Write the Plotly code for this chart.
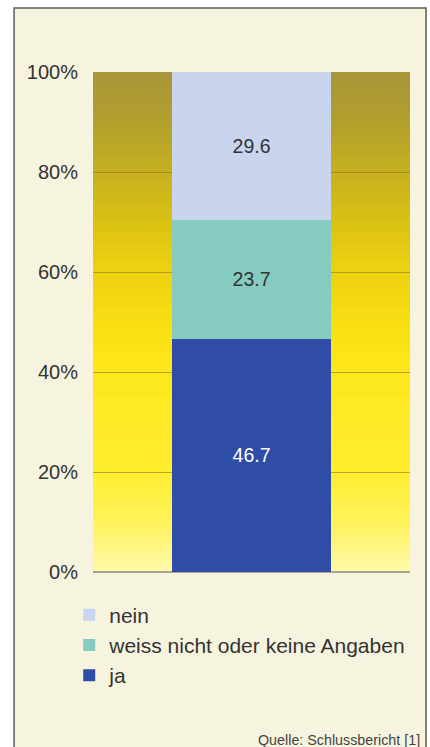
import plotly.graph_objects as go

# ---- data ----
categories = ["Umfrage"]
series_names = ["ja", "weiss nicht oder keine Angaben", "nein"]
ja_values = [46.7]
weiss_values = [23.7]
nein_values = [29.6]
tick_values = [0, 20, 40, 60, 80, 100]
tick_labels = ["0%", "20%", "40%", "60%", "80%", "100%"]
source_text = "Quelle: Schlussbericht [1]"

FONT = "Liberation Sans, Arial, sans-serif"
colors = {"ja": "#2f4ca6", "weiss nicht oder keine Angaben": "#86cbbf", "nein": "#c9d5ee"}
text_colors = {"ja": "#ffffff", "weiss nicht oder keine Angaben": "#333333", "nein": "#333333"}

fig = go.Figure()
for name, vals in zip(series_names, [ja_values, weiss_values, nein_values]):
    fig.add_trace(go.Bar(
        x=categories, y=vals, name=name,
        marker=dict(color=colors[name], line=dict(width=0)),
        text=[f"{v:.1f}" for v in vals],
        textposition="inside", insidetextanchor="middle",
        textfont=dict(family=FONT, size=19.5, color=text_colors[name]),
        hoverinfo="skip",
    ))

# ---- background gradient (styling) ----
stops = [(0, (255, 249, 170)), (10, (255, 243, 92)), (20, (255, 237, 48)),
         (40, (253, 231, 28)), (50, (248, 222, 18)), (60, (238, 209, 16)),
         (70, (218, 194, 20)), (80, (198, 176, 30)), (90, (178, 159, 44)),
         (100, (168, 149, 58))]

def col_at(v):
    for (a, ca), (b, cb) in zip(stops[:-1], stops[1:]):
        if a <= v <= b:
            t = (v - a) / (b - a)
            c = [round(ca[i] + (cb[i] - ca[i]) * t) for i in range(3)]
            return f"rgb({c[0]},{c[1]},{c[2]})"
    return "rgb(168,149,58)"

shapes = []
# outer frame
shapes.append(dict(type="rect", xref="paper", yref="paper",
                   x0=-0.249, x1=1.0505, y0=-0.36, y1=1.128,
                   fillcolor="#f6f4de", line=dict(color="#5a5a55", width=1.5),
                   layer="below"))
N = 100
for i in range(N):
    y0 = i * 100 / N
    y1 = (i + 1) * 100 / N
    shapes.append(dict(type="rect", xref="x domain", yref="y",
                       x0=0, x1=1, y0=y0, y1=y1 + 0.05,
                       fillcolor=col_at((y0 + y1) / 2), line=dict(width=0),
                       layer="below"))
fig.update_layout(shapes=shapes)

fig.add_annotation(text=source_text, xref="paper", yref="paper",
                   x=1.037, y=-0.336, xanchor="right", yanchor="middle",
                   showarrow=False, font=dict(family=FONT, size=14.3, color="#444444"))

fig.update_layout(
    width=430, height=747,
    margin=dict(l=93, r=20, t=72, b=175),
    barmode="stack", bargap=0.5,
    paper_bgcolor="#ffffff", plot_bgcolor="rgba(0,0,0,0)",
    font=dict(family=FONT, color="#333333"),
    showlegend=True,
    legend=dict(traceorder="reversed", orientation="v",
                x=-0.075, xanchor="left", y=-0.045, yanchor="top",
                font=dict(family=FONT, size=21, color="#333333"),
                bgcolor="rgba(0,0,0,0)", itemwidth=30, tracegroupgap=0),
    xaxis=dict(showticklabels=False, showgrid=False, zeroline=False,
               range=[-0.5, 0.5], fixedrange=True),
    yaxis=dict(range=[0, 100], tickvals=tick_values, ticktext=tick_labels,
               tickfont=dict(family=FONT, size=20, color="#333333"),
               showgrid=True, gridcolor="rgba(140,120,30,0.6)", gridwidth=1,
               zeroline=True, zerolinecolor="#a8a690", zerolinewidth=1.5,
               ticks="", ticklabelstandoff=14, fixedrange=True),
)

fig.write_html("out.html")
